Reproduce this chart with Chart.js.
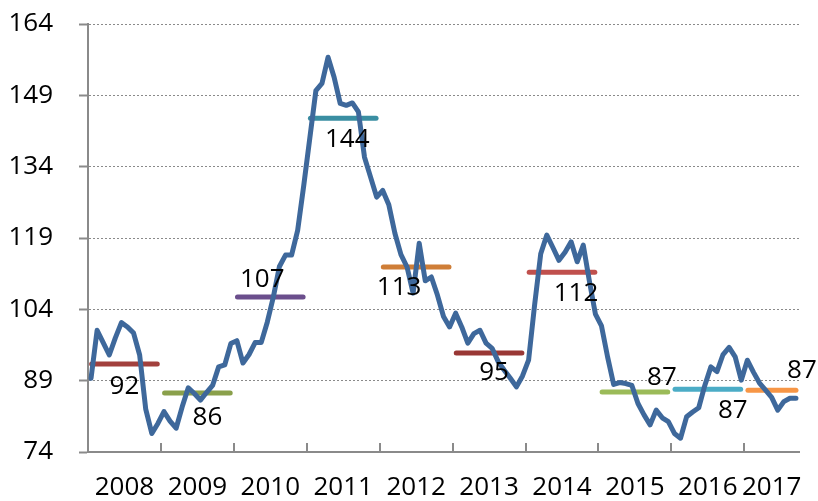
<!DOCTYPE html>
<html>
<head>
<meta charset="utf-8">
<script src="https://cdn.jsdelivr.net/npm/chart.js@4.4.1/dist/chart.umd.min.js"></script>
<style>
html,body{margin:0;padding:0;background:#fff}
#wrap{width:818px;height:501px;position:relative}
</style>
</head>
<body>
<div id="wrap"><canvas id="chart"></canvas></div>
<script>
// data (monthly, Jan 2008 - Sep 2017)
let years = ["2008","2009","2010","2011","2012","2013","2014","2015","2016","2017"]

let monthly = [
89.5, 99.6, 97, 94.4, 98, 101.2, 100.3, 99, 94.4, 83, 77.9, 80,
82.5, 80.5, 79, 83.5, 87.5, 86.3, 84.9, 86.5, 88, 91.9, 92.3, 96.8,
97.4, 92.7, 94.5, 97, 97, 101.3, 106.6, 113, 115.4, 115.4, 120.6, 130,
140, 150, 151.5, 157, 152.8, 147.3, 146.9, 147.4, 145.5, 136, 131.8, 127.6,
129, 126, 120, 115.5, 112.9, 107.4, 117.9, 110, 110.8, 107, 102.5, 100.3,
103.2, 100.3, 96.9, 98.9, 99.6, 96.9, 95.8, 93, 91.2, 89.5, 87.7, 90,
93.3, 105, 115.7, 119.6, 117, 114.3, 116, 118.2, 114, 117.5, 110, 103,
100.5, 94, 88.2, 88.6, 88.4, 88, 84.2, 81.8, 79.7, 82.8, 81.2, 80.4,
77.9, 76.9, 81.4, 82.4, 83.3, 88, 91.9, 90.9, 94.5, 96, 94, 89.1,
93.3, 90.8, 88.5, 87, 85.5, 82.8, 84.6, 85.3, 85.3
]

let yearAvg = [92.5, 86.4, 106.6, 144.2, 112.9, 94.8, 111.8, 86.6, 87.2, 87.0]
let avgLabels = ["92","86","107","144","113","95","112","87","87","87"]
let yTicks = [74, 89, 104, 119, 134, 149, 164]

// styling
let avgColors = ["#A2403D","#8AA04B","#6B4E8C","#3A8EA2","#CF7E37","#993735","#C0504D","#9BBB59","#4BACC6","#F79646"]
let labelShift = [[0,23],[10,25],[-8,-17],[4,21],[-17,21],[5,20],[14,21],[27,-14],[25,21],[30,-20]]
let axisGray = "#8a8a8a"
let fontSize = 26
let nMonths = monthly.length

Chart.defaults.font.family = "'Open Sans', sans-serif"
Chart.defaults.color = "#000"

let datasets = [{
  data: monthly.map((v, i) => ({x: i + 0.5, y: v})),
  borderColor: "#3E689B",
  borderWidth: 5,
  borderJoinStyle: "round",
  borderCapStyle: "round",
  pointRadius: 0,
  tension: 0
}]

yearAvg.forEach((v, k) => {
  let start = k * 12 + 0.6
  let end = Math.min(k * 12 + 11.4, nMonths - 0.5)
  datasets.push({
    data: [{x: start, y: v}, {x: end, y: v}],
    borderColor: avgColors[k],
    borderWidth: 5,
    borderCapStyle: "round",
    pointRadius: 0
  })
})

let yearCenters = years.map((y, k) => (k * 12 + Math.min(k * 12 + 12, nMonths)) / 2)

function noOverhang(axis){
  axis.paddingTop = 0
  axis.paddingBottom = 0
  axis.paddingLeft = 0
  axis.paddingRight = 0
}

const yearMarks = {
  id: "yearMarks",
  afterDatasetsDraw(chart){
    const {ctx, scales: {x, y}} = chart
    ctx.save()
    ctx.strokeStyle = axisGray
    ctx.lineWidth = 2
    for(let k = 1; k < years.length; k++){
      let px = Math.round(x.getPixelForValue(k * 12))
      ctx.beginPath()
      ctx.moveTo(px, y.bottom)
      ctx.lineTo(px, y.bottom - 9)
      ctx.stroke()
    }
    ctx.font = fontSize + "px 'Open Sans', sans-serif"
    ctx.fillStyle = "#000"
    ctx.textAlign = "center"
    ctx.textBaseline = "middle"
    yearAvg.forEach((v, k) => {
      let pts = chart.getDatasetMeta(k + 1).data
      let cx = (pts[0].x + pts[1].x) / 2
      ctx.fillText(avgLabels[k], cx + labelShift[k][0], y.getPixelForValue(v) + labelShift[k][1])
    })
    ctx.restore()
  }
}

new Chart(document.getElementById("chart"), {
  type: "line",
  data: {datasets: datasets},
  options: {
    responsive: true,
    maintainAspectRatio: false,
    animation: false,
    layout: {padding: {top: 24, right: 19, left: 0, bottom: 0}},
    plugins: {legend: {display: false}, tooltip: {enabled: false}},
    scales: {
      x: {
        type: "linear",
        min: 0,
        max: nMonths,
        afterBuildTicks: axis => { axis.ticks = yearCenters.map(v => ({value: v})) },
        afterFit: axis => { axis.height = 49; noOverhang(axis) },
        grid: {display: false, drawTicks: false},
        border: {color: axisGray, width: 2},
        ticks: {
          autoSkip: false,
          maxRotation: 0,
          padding: 23,
          font: {size: fontSize, lineHeight: 1},
          callback: (v, i) => years[i]
        }
      },
      y: {
        min: 74,
        max: 164,
        afterBuildTicks: axis => { axis.ticks = yTicks.map(v => ({value: v})) },
        afterFit: axis => { axis.width = 88; noOverhang(axis) },
        grid: {color: axisGray, lineWidth: 1, tickLength: 9, tickWidth: 2, tickColor: axisGray},
        border: {color: axisGray, width: 2, dash: [2, 2]},
        ticks: {padding: 26, font: {size: fontSize}}
      }
    }
  },
  plugins: [yearMarks]
})
</script>
</body>
</html>
